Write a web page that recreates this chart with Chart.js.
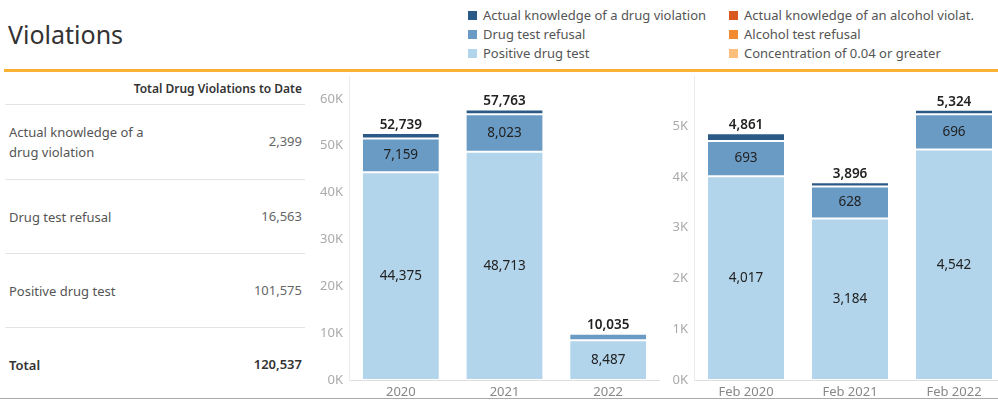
<!DOCTYPE html>
<html lang="en">
<head>
  <meta charset="UTF-8">
  <title>Violations</title>
  <script src="https://cdn.jsdelivr.net/npm/chart.js"></script>
  <style>
    html, body { margin: 0; padding: 0; background: #fff; }
    body { width: 998px; height: 401px; position: relative; overflow: hidden; font-family: "Noto Sans", sans-serif; }
    .title { position: absolute; left: 8px; top: 17px; font-size: 25px; color: #333; }
    .rule { position: absolute; left: 4px; right: 0; top: 69px; height: 3px; background: #f9b233; }
    .bottom-rule { position: absolute; left: 0; right: 0; top: 398px; height: 1px; background: #aaa; }
    .legend { position: absolute; top: 6px; font-size: 13px; color: #555; }
    .legend div { height: 19px; line-height: 19px; white-space: nowrap; }
    .legend span { display: inline-block; width: 9px; height: 9px; margin-right: 6px; }
    .tbl { position: absolute; left: 5px; top: 72px; width: 300px; }
    .tbl .hd { position: absolute; right: 3px; top: 8px; font-size: 12px; font-weight: 600; color: #333; white-space: nowrap; }
    .tbl .row { position: absolute; left: 0; width: 300px; border-top: 1px solid #e3e3e3; }
    .tbl .lab { position: absolute; left: 4px; font-size: 13px; color: #555; line-height: 20px; }
    .tbl .val { position: absolute; right: 3px; font-size: 13px; color: #666; }
    .tbl .bold { font-weight: 600; color: #333; }
    canvas { position: absolute; }
  </style>
</head>
<body>
  <div class="title">Violations</div>
  <div class="rule"></div>
  <div class="bottom-rule"></div>

  <div class="legend" style="left:468px">
    <div><span style="background:#2c5a87"></span>Actual knowledge of a drug violation</div>
    <div><span style="background:#6a9bc4"></span>Drug test refusal</div>
    <div><span style="background:#b2d5ec"></span>Positive drug test</div>
  </div>
  <div class="legend" style="left:729px">
    <div><span style="background:#d9581f"></span>Actual knowledge of an alcohol violat.</div>
    <div><span style="background:#f28a30"></span>Alcohol test refusal</div>
    <div><span style="background:#fbbe7d"></span>Concentration of 0.04 or greater</div>
  </div>

  <div class="tbl" id="tbl"></div>

  <canvas id="yearChart"></canvas>
  <canvas id="febChart"></canvas>

  <script>
    // Yearly totals
    const years = ["2020", "2021", "2022"];
    const yearKnowledge = [1205, 1027, 167];
    const yearRefusal = [7159, 8023, 1381];
    const yearPositive = [44375, 48713, 8487];
    const yearTicks = [0, 10000, 20000, 30000, 40000, 50000, 60000];

    // February of each year
    const months = ["Feb 2020", "Feb 2021", "Feb 2022"];
    const febKnowledge = [151, 84, 86];
    const febRefusal = [693, 628, 696];
    const febPositive = [4017, 3184, 4542];
    const febTicks = [0, 1000, 2000, 3000, 4000, 5000];

    // Table on the left
    const tableLabels = ["Actual knowledge of a<br>drug violation", "Drug test refusal", "Positive drug test"];
    const tableValues = [2399, 16563, 101575];
    const tableTotal = 120537;

    const colors = { knowledge: "#2c5a87", refusal: "#6a9bc4", positive: "#b2d5ec" };
    const fmt = (v) => v.toLocaleString("en-US");

    // build table
    const tbl = document.getElementById("tbl");
    let html = '<div class="hd">Total Drug Violations to Date</div>';
    const rowTops = [32, 107, 181, 255];
    tableLabels.forEach((lab, i) => {
      const two = lab.includes("<br>");
      html += `<div class="row" style="top:${rowTops[i]}px;height:74px">
        <div class="lab" style="top:${two ? 17 : 27}px">${lab}</div>
        <div class="val" style="top:27px">${fmt(tableValues[i])}</div></div>`;
    });
    html += `<div class="row" style="top:${rowTops[3]}px;height:73px;border-bottom:1px solid #e3e3e3">
      <div class="lab bold" style="top:27px">Total</div>
      <div class="val bold" style="top:27px">${fmt(tableTotal)}</div></div>`;
    tbl.innerHTML = html;

    // labels on the bars
    const barLabels = {
      id: "barLabels",
      afterDatasetsDraw(chart) {
        const ctx = chart.ctx;
        ctx.save();
        ctx.textAlign = "center";
        ctx.textBaseline = "middle";
        ctx.fillStyle = "#222";
        ctx.font = '13.5px "Noto Sans"';
        // segment labels for positive and refusal
        [0, 1].forEach((di) => {
          const meta = chart.getDatasetMeta(di);
          meta.data.forEach((bar, i) => {
            const h = Math.abs(bar.base - bar.y);
            if (h < 14) return;
            ctx.fillText(fmt(chart.data.datasets[di].data[i]), bar.x, (bar.y + bar.base) / 2);
          });
        });
        // totals above stacks
        ctx.font = '600 13.5px "Noto Sans"';
        ctx.textBaseline = "alphabetic";
        const n = chart.data.labels.length;
        for (let i = 0; i < n; i++) {
          let total = 0;
          chart.data.datasets.forEach((ds) => { total += ds.data[i]; });
          const y = chart.scales.y.getPixelForValue(total);
          const x = chart.getDatasetMeta(0).data[i].x;
          ctx.fillText(fmt(total), x, y - 4);
        }
        ctx.restore();
      }
    };

    function makeChart(id, left, width, labels, knowledge, refusal, positive, yMax, tickVals) {
      const canvas = document.getElementById(id);
      canvas.style.left = left + "px";
      canvas.style.top = "73px";
      canvas.style.width = width + "px";
      canvas.style.height = "327px";
      canvas.width = width;
      canvas.height = 327;
      const seg = { borderColor: "rgba(255,255,255,0.3)", borderWidth: 1, borderSkipped: false };
      return new Chart(canvas.getContext("2d"), {
        type: "bar",
        data: {
          labels: labels,
          datasets: [
            Object.assign({ label: "Positive drug test", data: positive, backgroundColor: colors.positive }, seg),
            Object.assign({ label: "Drug test refusal", data: refusal, backgroundColor: colors.refusal }, seg),
            Object.assign({ label: "Actual knowledge of a drug violation", data: knowledge, backgroundColor: colors.knowledge }, seg)
          ]
        },
        options: {
          responsive: false,
          animation: false,
          layout: { padding: { top: 3, right: 0, left: 0, bottom: 0 } },
          plugins: { legend: { display: false }, tooltip: { enabled: false } },
          datasets: { bar: { barPercentage: 0.75, categoryPercentage: 1 } },
          scales: {
            x: {
              stacked: true,
              grid: { display: false, drawTicks: false },
              border: { display: true, color: "#dedede" },
              ticks: { color: "#888", font: { family: "Noto Sans", size: 13 }, padding: 4 },
              afterFit(s) { s.height = 20; s.paddingLeft = 0; s.paddingRight = 0; }
            },
            y: {
              stacked: true,
              min: 0,
              max: yMax,
              grid: { display: false, drawTicks: false },
              border: { display: true, color: "#ececec" },
              afterBuildTicks(s) { s.ticks = tickVals.map((v) => ({ value: v })); },
              ticks: {
                color: "#aaa",
                padding: 6,
                font: { family: "Noto Sans", size: 13 },
                callback: (v) => (v / 1000) + "K"
              },
              afterFit(s) { s.width = 49; s.paddingTop = 0; s.paddingBottom = 0; }
            }
          }
        },
        plugins: [barLabels]
      });
    }

    makeChart("yearChart", 300, 360, years, yearKnowledge, yearRefusal, yearPositive, 64900, yearTicks);
    makeChart("febChart", 645, 361, months, febKnowledge, febRefusal, febPositive, 5990, febTicks);
  </script>
</body>
</html>
